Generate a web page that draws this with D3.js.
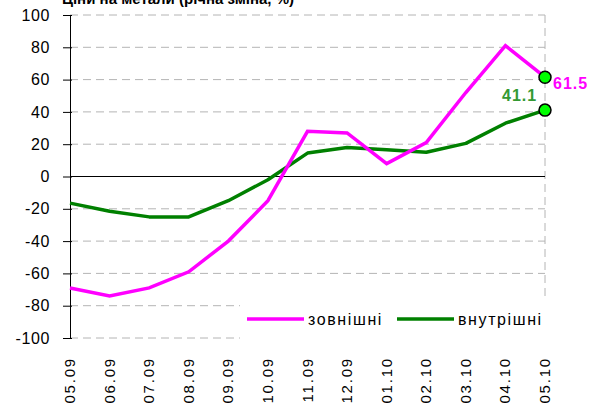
<!DOCTYPE html>
<html>
<head>
<meta charset="utf-8">
<script src="https://cdn.jsdelivr.net/npm/d3@7"></script>
<style>
  body { margin: 0; background: #fff; }
  svg { font-family: Arial, "Liberation Sans", sans-serif; }
</style>
</head>
<body>
<svg id="chart" width="605" height="404"></svg>
<script>
// дані з графіка
const months = ["05.09", "06.09", "07.09", "08.09", "09.09", "10.09", "11.09", "12.09", "01.10", "02.10", "03.10", "04.10", "05.10"];
const external = [-69, -74, -69, -59, -40, -15, 28, 27, 8, 21, 52, 81, 61.5];
const internal = [-16.5, -21.5, -25, -25, -15, -2, 14.5, 18, 16.5, 15, 20.5, 33, 41.1];
const yTicks = [-100, -80, -60, -40, -20, 0, 20, 40, 60, 80, 100];
const seriesNames = ["зовнішні", "внутрішні"];
const title = "Ціни на метали (річна зміна, %)";

const svg = d3.select("#chart");

const x = d3.scalePoint().domain(months).range([70, 545]);
const y = d3.scaleLinear().domain([-100, 100]).range([338, 15]);

// заголовок (у оригіналі обрізаний зверху)
svg.append("text")
    .attr("x", 62).attr("y", 4)
    .attr("font-size", 15).attr("font-weight", "bold")
    .text(title);

// сітка
svg.append("g")
    .selectAll("line")
    .data(yTicks)
    .enter().append("line")
    .attr("x1", 70).attr("x2", 545)
    .attr("y1", d => y(d)).attr("y2", d => y(d))
    .attr("stroke", "#b4b4b4")
    .attr("stroke-dasharray", "8,5");

svg.append("line")
    .attr("x1", x(months[months.length - 1])).attr("x2", x(months[months.length - 1]))
    .attr("y1", y(100)).attr("y2", y(-100))
    .attr("stroke", "#b4b4b4")
    .attr("stroke-dasharray", "8,5");

// нульова лінія
svg.append("line")
    .attr("x1", 70).attr("x2", 545)
    .attr("y1", y(0)).attr("y2", y(0))
    .attr("stroke", "#000");

// вісь Y
const yAxis = svg.append("g")
    .attr("transform", "translate(70,0)")
    .call(d3.axisLeft(y).tickValues(yTicks).tickSize(7).tickPadding(13).tickFormat(d => String(d)));
yAxis.select(".domain").attr("stroke", "#000");
yAxis.selectAll(".tick line").attr("x2", -7).attr("x1", 2).attr("stroke", "#000");
yAxis.selectAll("text")
    .attr("font-size", 16)
    .attr("font-family", "Arial, 'Liberation Sans', sans-serif")
    .attr("fill", "#000")
    .attr("letter-spacing", 0.6);

// підписи місяців
svg.append("g")
    .selectAll("text")
    .data(months)
    .enter().append("text")
    .attr("transform", d => `translate(${x(d) + 5},357) rotate(-90)`)
    .attr("text-anchor", "end")
    .attr("font-size", 15)
    .attr("letter-spacing", 1.8)
    .text(d => d);

// легенда - білий фон
svg.append("rect")
    .attr("x", 240).attr("y", 299)
    .attr("width", 325).attr("height", 45)
    .attr("fill", "#fff");

const line = d3.line()
    .x((d, i) => x(months[i]))
    .y(d => y(d));

svg.append("path")
    .datum(internal)
    .attr("fill", "none")
    .attr("stroke", "#008000")
    .attr("stroke-width", 3.5)
    .attr("stroke-linejoin", "round")
    .attr("d", line);

svg.append("path")
    .datum(external)
    .attr("fill", "none")
    .attr("stroke", "#ff00ff")
    .attr("stroke-width", 3.5)
    .attr("stroke-linejoin", "miter")
    .attr("d", line);

// маркери останніх точок
const last = months.length - 1;
[external[last], internal[last]].forEach(v => {
    svg.append("circle")
        .attr("cx", x(months[last])).attr("cy", y(v))
        .attr("r", 6)
        .attr("fill", "#00ff00")
        .attr("stroke", "#000")
        .attr("stroke-width", 1.5);
});

svg.append("text")
    .attr("x", x(months[last]) + 8).attr("y", y(external[last]) + 12)
    .attr("font-size", 16).attr("font-weight", "bold")
    .attr("fill", "#ff00ff").attr("letter-spacing", 1)
    .text(external[last]);

svg.append("text")
    .attr("x", x(months[last]) - 43).attr("y", y(internal[last]) - 9)
    .attr("font-size", 16).attr("font-weight", "bold")
    .attr("fill", "#339933").attr("letter-spacing", 1)
    .text(internal[last]);

const legend = svg.append("g");
const legendItems = [
    { name: seriesNames[0], color: "#ff00ff", x: 247 },
    { name: seriesNames[1], color: "#008000", x: 397 }
];
legendItems.forEach(it => {
    legend.append("line")
        .attr("x1", it.x).attr("x2", it.x + 57)
        .attr("y1", 319).attr("y2", 319)
        .attr("stroke", it.color)
        .attr("stroke-width", 3.5);
    legend.append("text")
        .attr("x", it.x + 61).attr("y", 325)
        .attr("font-size", 16)
        .attr("letter-spacing", 1.6)
        .text(it.name);
});
</script>
</body>
</html>
